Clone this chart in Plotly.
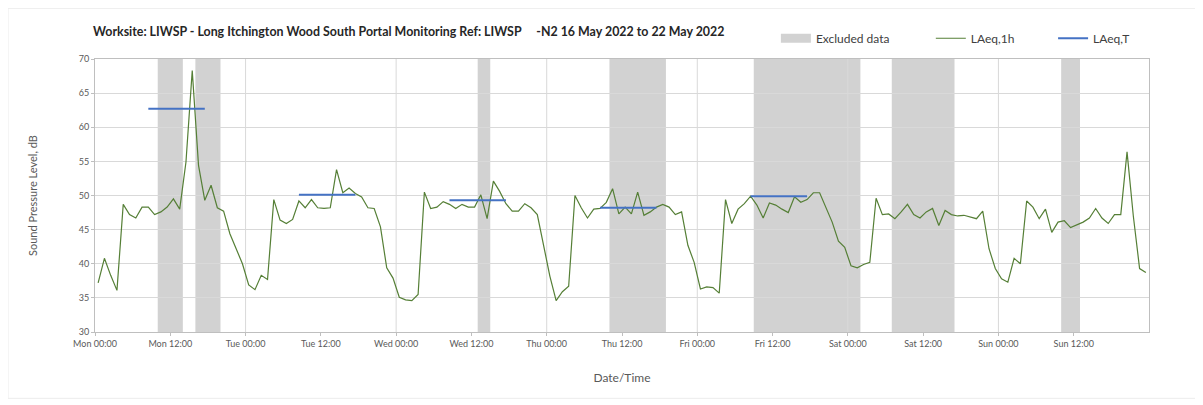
import pandas as pd
import plotly.graph_objects as go

# hourly LAeq,1h values, one list per day (Mon 16 May - Sun 22 May 2022)
mon = [37.2, 40.8, 38.3, 36.1, 48.7, 47.2, 46.7, 48.3, 48.3, 47.2, 47.6, 48.3,
       49.5, 48.0, 54.9, 68.3, 54.4, 49.3, 51.5, 48.2, 47.7, 44.4, 42.2, 40.0]
tue = [36.9, 36.2, 38.3, 37.7, 49.4, 46.4, 45.9, 46.5, 49.2, 48.2, 49.4, 48.2,
       48.1, 48.2, 53.8, 50.4, 51.1, 50.3, 49.8, 48.2, 48.1, 45.4, 39.4, 37.9]
wed = [35.1, 34.7, 34.6, 35.5, 50.5, 48.1, 48.3, 49.1, 48.7, 48.1, 48.7, 48.3,
       48.3, 50.1, 46.6, 52.1, 50.6, 48.8, 47.7, 47.7, 48.8, 48.2, 47.2, 42.5]
thu = [38.2, 34.6, 35.9, 36.7, 50.0, 48.2, 46.7, 48.0, 48.1, 49.0, 51.0, 47.3,
       48.3, 47.3, 50.5, 47.1, 47.6, 48.3, 48.7, 48.3, 47.2, 47.6, 42.7, 40.2]
fri = [36.3, 36.6, 36.5, 35.7, 49.4, 45.9, 48.0, 48.8, 49.9, 48.6, 46.7, 48.9,
       48.6, 48.0, 47.5, 49.8, 49.0, 49.4, 50.4, 50.4, 48.3, 46.1, 43.3, 42.4]
sat = [39.7, 39.4, 39.9, 40.2, 49.6, 47.2, 47.3, 46.6, 47.6, 48.7, 47.2, 46.7,
       47.6, 48.1, 45.6, 47.8, 47.2, 47.0, 47.1, 46.8, 46.6, 47.7, 42.2, 39.3]
sun = [37.8, 37.3, 40.8, 40.0, 49.2, 48.3, 46.6, 48.0, 44.6, 46.1, 46.3, 45.3,
       45.7, 46.1, 46.7, 48.1, 46.7, 45.9, 47.2, 47.2, 56.4, 47.0, 39.3, 38.7]

# daytime LAeq,T (08:00-18:00) per weekday
t_days = ["2022-05-16", "2022-05-17", "2022-05-18", "2022-05-19", "2022-05-20"]
t_values = [62.7, 50.1, 49.3, 48.2, 49.9]

# excluded data periods
excl_start = ["2022-05-16 10:00", "2022-05-16 16:00", "2022-05-18 13:00", "2022-05-19 10:00",
              "2022-05-20 09:00", "2022-05-21 07:00", "2022-05-22 10:00"]
excl_end = ["2022-05-16 14:00", "2022-05-16 20:00", "2022-05-18 15:00", "2022-05-19 19:00",
            "2022-05-21 02:00", "2022-05-21 17:00", "2022-05-22 13:00"]

laeq_1h = mon + tue + wed + thu + fri + sat + sun
times = pd.date_range("2022-05-16 00:30", periods=len(laeq_1h), freq="h")
fmt = "%Y-%m-%d %H:%M"

FONT = "Lato"
GRID = "#d9d9d9"
BAND = "#d2d2d2"
W, H = 1195, 397  # page body adds an 8px offset

fig = go.Figure()

for s, e in zip(excl_start, excl_end):
    fig.add_vrect(x0=s, x1=e, fillcolor=BAND, line_width=0, layer="below")

# day gridlines
for d in pd.date_range("2022-05-17", periods=6, freq="D").strftime(fmt):
    fig.add_vline(x=d, line_color=GRID, line_width=1, layer="below")

# legend swatch for excluded data (point sits below the y range)
fig.add_trace(go.Scatter(x=[excl_start[0], excl_end[0]], y=[0, 0], mode="lines",
                         name="Excluded data", line=dict(color=BAND, width=9),
                         legend="legend", hoverinfo="skip", showlegend=True))

fig.add_trace(go.Scatter(x=times.strftime(fmt), y=laeq_1h, mode="lines", name="LAeq,1h",
                         line=dict(color="#557f36", width=1.2), legend="legend2"))

for i, (d, v) in enumerate(zip(t_days, t_values)):
    day = pd.Timestamp(d)
    xs = [(day + pd.Timedelta(hours=h)).strftime(fmt) for h in (8.5, 17.5)]
    fig.add_trace(go.Scatter(x=xs, y=[v, v], mode="lines", name="LAeq,T",
                             line=dict(color="#4472c4", width=2),
                             legend="legend3", showlegend=(i == 0)))

tick_pos = pd.date_range("2022-05-16 00:00", periods=14, freq="12h").strftime(fmt).tolist()

leg = dict(orientation="h", yanchor="middle", y=1.076, xanchor="left",
           font=dict(family=FONT, size=12, color="#404040"), bgcolor="rgba(0,0,0,0)")

fig.update_layout(
    width=W, height=H,
    margin=dict(l=87, r=54, t=51, b=73),
    paper_bgcolor="white", plot_bgcolor="white",
    font=dict(family=FONT, color="#595959"),
    showlegend=True,
    title=dict(text="<b>Worksite: LIWSP - Long Itchington Wood South Portal Monitoring Ref: LIWSP"
                    "&nbsp;&nbsp;&nbsp;&nbsp;&nbsp;-N2 16 May 2022 to 22 May 2022</b>",
               x=85 / W, xanchor="left", y=1 - 24 / H, yanchor="middle",
               font=dict(family=FONT, size=12.4, color="#262626")),
    legend=dict(leg, x=0.646),
    legend2=dict(leg, x=0.793),
    legend3=dict(leg, x=0.909),
    xaxis=dict(type="date", range=["2022-05-16 00:00", "2022-05-23 00:00"],
               tickvals=tick_pos, tickformat="%a %H:%M",
               tickfont=dict(size=9, color="#595959"),
               showgrid=False, showline=True, linecolor="#bfbfbf", mirror=True,
               ticks="outside", ticklen=3, tickcolor="#bfbfbf", automargin=False,
               title=dict(text="Date/Time", standoff=25,
                          font=dict(size=12, color="#595959"))),
    yaxis=dict(range=[30, 70], dtick=5, tickfont=dict(size=9, color="#595959"),
               showgrid=True, gridcolor=GRID, zeroline=False,
               showline=True, linecolor="#bfbfbf", mirror=True,
               ticks="outside", ticklen=3, tickcolor="#bfbfbf", automargin=False,
               title=dict(text="Sound Pressure Level, dB", standoff=38,
                          font=dict(size=11, color="#595959"))),
)

# faint chart border
fig.add_shape(type="rect", xref="paper", yref="paper",
              x0=-0.0825, x1=1.0465, y0=-0.243, y1=1.1857,
              line=dict(color="#ececec", width=1))

fig.write_html("out.html")
